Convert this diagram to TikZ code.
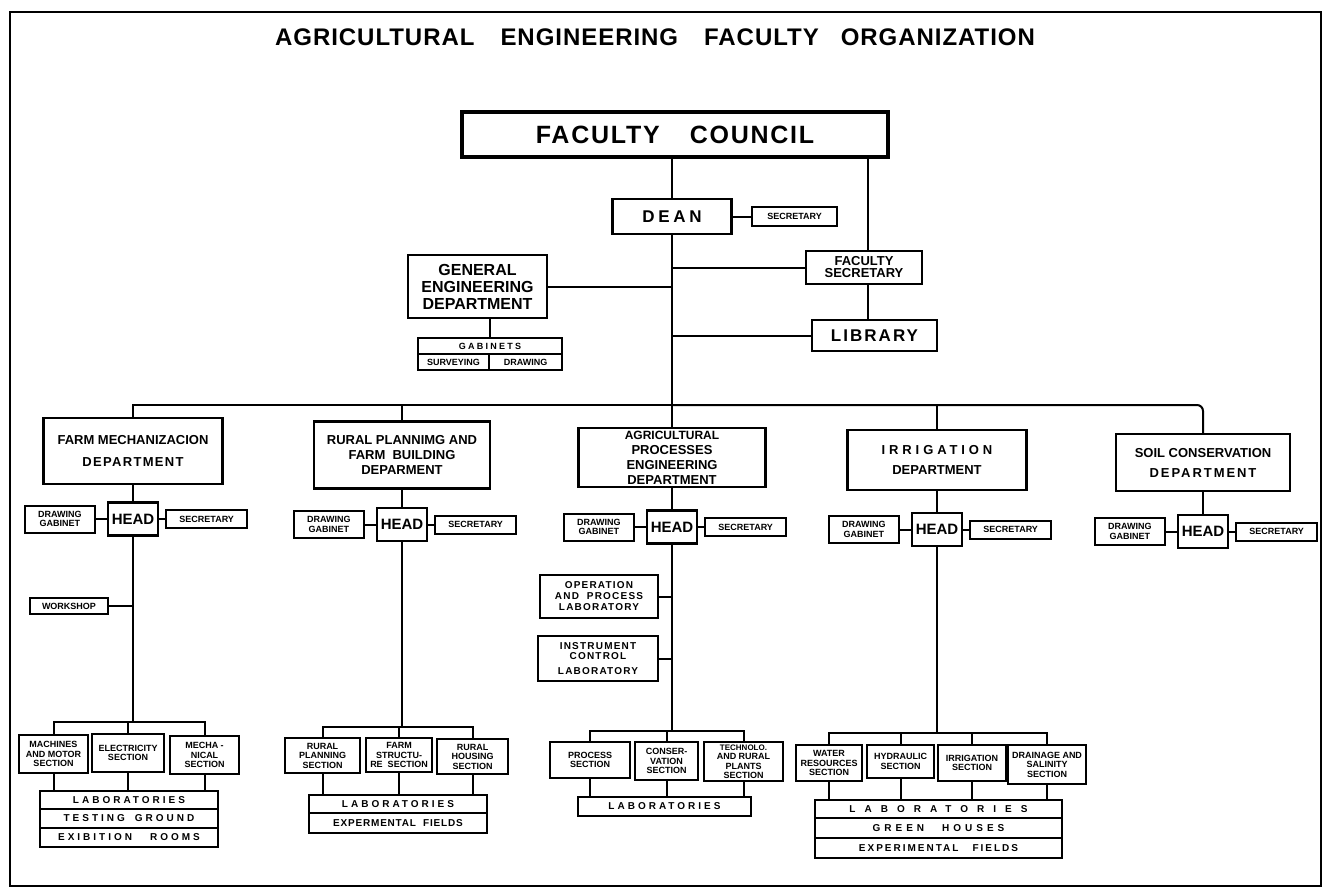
\documentclass[tikz,border=0pt]{standalone}
\usepackage{fontspec}
\setmainfont{Liberation Sans}
\usetikzlibrary{positioning}
\newcommand\fsz[2]{\fontsize{#1}{#2}\selectfont}
\newcommand\spacedby[1]{\addfontfeature{LetterSpace=#1}}
\tikzstyle{unit}=[draw,line width=2.4pt,inner sep=2pt,align=center,font=\bfseries\fsz{13}{15}]
\tikzstyle{bigunit}=[unit,line width=3.8pt]
\tikzstyle{headunit}=[unit,minimum width=50pt,minimum height=33pt,font=\bfseries\fsz{15}{17}]
\tikzstyle{smallunit}=[draw,line width=2pt,inner sep=1pt,align=center,font=\bfseries\fsz{9}{9.5}]
\tikzstyle{sectunit}=[smallunit,line width=2.2pt]
\tikzstyle{rowunit}=[smallunit,font=\bfseries\fsz{10}{11}\spacedby{30}]
\tikzstyle{edge}=[draw,line width=2pt]

\begin{document}
\begin{tikzpicture}[x=1pt,y=-1pt]
    \useasboundingbox (0,0) rectangle (1330,895);
    \draw[line width=2.4pt] (10,12) rectangle (1321,886);
    \node[font=\bfseries\fsz{24}{28}\spacedby{4}] (title) at (655,37)
        {AGRICULTURAL\hspace{26pt}ENGINEERING\hspace{26pt}FACULTY\hspace{22pt}ORGANIZATION};

    % First the faculty level
    \node[bigunit,minimum width=426,minimum height=45,font=\bfseries\fsz{25}{30}\spacedby{7}] (council) at (675,134.5) {FACULTY\hspace{30pt}COUNCIL};
    \node[unit,minimum width=119,minimum height=35,font=\bfseries\fsz{17}{20}\spacedby{22}] (dean) at (672,216.5) {DEAN};
    \node[smallunit,minimum width=85,minimum height=19] (deansec) at (794.5,216.5) {SECRETARY};
    \node[unit,minimum width=116,minimum height=33,font=\bfseries\fsz{13}{12}] (facsec) at (864,267.5) {FACULTY\\SECRETARY};
    \node[unit,minimum width=125,minimum height=31,font=\bfseries\fsz{17}{20}\spacedby{12}] (library) at (874.5,335.5) {LIBRARY};
    \node[unit,minimum width=139,minimum height=63,font=\bfseries\fsz{16}{17}] (ged) at (477.5,286.5) {GENERAL\\ENGINEERING\\DEPARTMENT};
    \node[smallunit,minimum width=144,minimum height=16,font=\bfseries\fsz{9}{10}\spacedby{25}] (gab) at (490,346) {GABINETS};
    \node[smallunit,minimum width=71,minimum height=16] (surv) at (453.5,362) {SURVEYING};
    \node[smallunit,minimum width=73,minimum height=16] (draw) at (525.5,362) {DRAWING};

    \coordinate (trunk) at (672,405);
    \draw[edge] (dean) -- (dean |- council.south);
    \draw[edge] (dean) -- (deansec);
    \draw[edge] (dean) -- (trunk);
    \draw[edge] ([xshift=4pt]facsec.north) -- ([xshift=4pt]facsec.north |- council.south);
    \draw[edge] ([xshift=4pt]facsec.south) -- ([xshift=4pt]facsec.south |- library.north);
    \foreach \name in {facsec,library,ged}
        \draw[edge] (\name) -- (\name -| dean);
    \draw[edge] (gab) -- (gab |- ged.south);

    % Then the departments
    \foreach \pos/\name/\w/\h/\label in {{(133,451)/fm/179/66/{FARM MECHANIZACION\\[7pt]{\spacedby{10}DEPARTMENT}}},
            {(402,455)/rp/176/67/{RURAL PLANNIMG AND\\FARM\ \ BUILDING\\DEPARMENT}},
            {(672,457.5)/ap/187/59/{\fsz{12}{12}AGRICULTURAL\\PROCESSES\\ENGINEERING\\DEPARTMENT}},
            {(937,460)/ir/179/60/{\spacedby{30}IRRIGATION\\[5pt]DEPARTMENT}},
            {(1203,462.5)/sc/174/57/{SOIL CONSERVATION\\[5pt]{\spacedby{15}DEPARTMENT}}}}
        \node[unit,minimum width=\w,minimum height=\h] (\name) at \pos {\label};

    \foreach \name in {fm,rp,ap,ir}
        \draw[edge] (trunk) -| (\name);
    \draw[edge,rounded corners=6pt] (trunk) -| (sc);

    \foreach \name/\x/\y in {fm/133/519,rp/402/524.5,ap/672/527,ir/937/529.5,sc/1203/531.5}
    {
        \node[headunit] (\name-head) at (\x,\y) {HEAD};
        \node[smallunit,minimum width=70,minimum height=27,left=11pt of \name-head] (\name-dg) {DRAWING\\GABINET};
        \node[smallunit,minimum width=81,minimum height=18,right=6pt of \name-head] (\name-sec) {SECRETARY};
        \draw[edge] (\name-head) -- (\name-head |- \name.south);
        \draw[edge] (\name-dg) -- (\name-head) -- (\name-sec);
    }

    % Laboratories hanging on the head lines
    \node[smallunit,minimum width=78,minimum height=16] (workshop) at (69,606) {WORKSHOP};
    \node[smallunit,minimum width=118,minimum height=43,font=\bfseries\fsz{10}{11}\spacedby{12}] (oplab) at (599,596.5) {OPERATION\\AND\ \ PROCESS\\LABORATORY};
    \node[smallunit,minimum width=120,minimum height=45,font=\bfseries\fsz{10}{10}\spacedby{12}] (inlab) at (598,658.5) {INSTRUMENT\\CONTROL\\[5pt]LABORATORY};
    \draw[edge] (workshop) -- (workshop -| fm-head);
    \draw[edge] (oplab) -- (oplab -| ap-head);
    \draw[edge] (inlab) -- (inlab -| ap-head);

    \coordinate (fm-bus) at (133,722);
    \coordinate (rp-bus) at (402,727);
    \coordinate (ap-bus) at (672,731);
    \coordinate (ir-bus) at (937,733);
    \foreach \name in {fm,rp,ap,ir}
        \draw[edge] (\name-head) -- (\name-bus);

    % Sections
    \foreach \pos/\name/\w/\h/\label in {{(53.5,754)/fm-s1/69/38/{MACHINES\\AND MOTOR\\SECTION}},
            {(128,753)/fm-s2/72/38/{ELECTRICITY\\SECTION}},
            {(204.5,755)/fm-s3/69/38/{MECHA -\\NICAL\\SECTION}},
            {(322.5,755.5)/rp-s1/75/35/{RURAL\\PLANNING\\SECTION}},
            {(399,755)/rp-s2/66/34/{FARM\\STRUCTU-\\RE\ \ SECTION}},
            {(472.5,756.5)/rp-s3/71/35/{RURAL\\HOUSING\\SECTION}},
            {(590,760)/ap-s1/80/36/{PROCESS\\SECTION}},
            {(666.5,761)/ap-s2/63/38/{CONSER-\\VATION\\SECTION}},
            {(743.5,761.5)/ap-s3/79/39/{\fsz{8}{8.5}TECHNOLO.\\AND RURAL\\PLANTS\\SECTION}},
            {(829,763)/ir-s1/66/36/{WATER\\RESOURCES\\SECTION}},
            {(900.5,761.5)/ir-s2/67/33/{HYDRAULIC\\SECTION}},
            {(972,763)/ir-s3/68/36/{IRRIGATION\\SECTION}},
            {(1047,764.5)/ir-s4/78/39/{DRAINAGE AND\\SALINITY\\SECTION}}}
        \node[sectunit,minimum width=\w,minimum height=\h] (\name) at \pos {\label};

    \foreach \pos/\name/\w/\h/\label in {{(129,800)/fm-lab1/178/18/LABORATORIES},
            {(129,818.5)/fm-lab2/178/19/{TESTING\hspace{10pt}GROUND}},
            {(129,837.5)/fm-lab3/178/19/{EXIBITION\hspace{18pt}ROOMS}},
            {(398,804)/rp-lab1/178/18/LABORATORIES},
            {(398,823)/rp-lab2/178/20/{\spacedby{8}EXPERMENTAL\ \ FIELDS}},
            {(664.5,806.5)/ap-lab1/173/19/LABORATORIES},
            {(938.5,809)/ir-lab1/247/18/{\spacedby{90}LABORATORIES}},
            {(938.5,828)/ir-lab2/247/20/{\spacedby{40}GREEN\hspace{18pt}HOUSES}},
            {(938.5,848)/ir-lab3/247/20/{\spacedby{20}EXPERIMENTAL\hspace{14pt}FIELDS}}}
        \node[rowunit,minimum width=\w,minimum height=\h] (\name) at \pos {\label};

    % Connect sections to their bus and to the laboratories
    \foreach \bus/\sect/\lab in {fm-bus/fm-s1/fm-lab1, fm-bus/fm-s2/fm-lab1, fm-bus/fm-s3/fm-lab1,
            rp-bus/rp-s1/rp-lab1, rp-bus/rp-s2/rp-lab1, rp-bus/rp-s3/rp-lab1,
            ap-bus/ap-s1/ap-lab1, ap-bus/ap-s2/ap-lab1, ap-bus/ap-s3/ap-lab1,
            ir-bus/ir-s1/ir-lab1, ir-bus/ir-s2/ir-lab1, ir-bus/ir-s3/ir-lab1, ir-bus/ir-s4/ir-lab1}
    {
        \draw[edge] (\bus) -| (\sect);
        \draw[edge] (\sect) -- (\sect |- \lab.north);
    }
\end{tikzpicture}
\end{document}
